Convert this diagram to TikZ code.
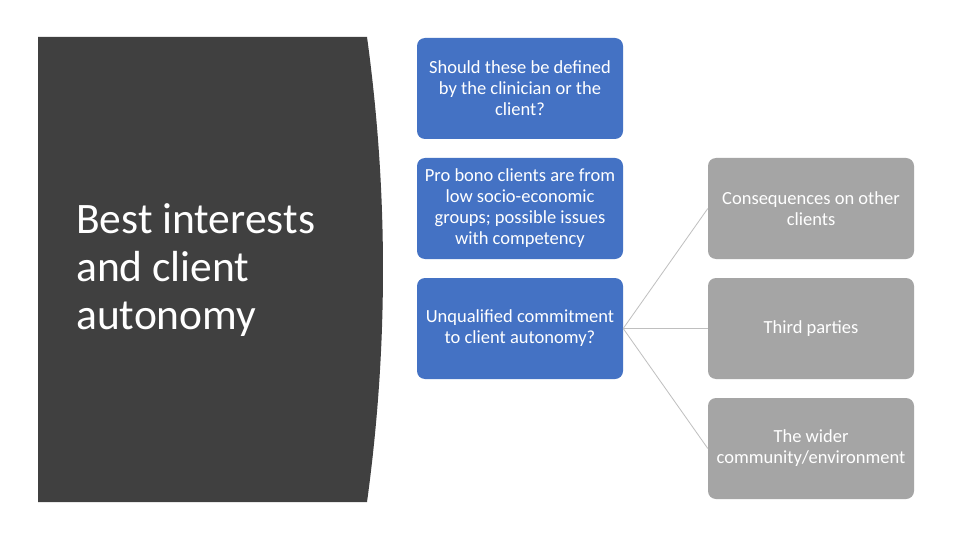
\documentclass[tikz,border=0pt]{standalone}
\usepackage{fontspec}
\setmainfont{Carlito}
\definecolor{panel}{HTML}{404040}
\definecolor{bluebox}{HTML}{4472C4}
\definecolor{graybox}{HTML}{A5A5A5}
\definecolor{linkc}{HTML}{BFBFBF}
\tikzset{
  card/.style={rounded corners=8pt, minimum width=206pt, minimum height=101pt,
    align=center, inner sep=0pt, text=white,
    font=\fontsize{18.5}{21}\selectfont},
  bluecard/.style={card, fill=bluebox},
  graycard/.style={card, fill=graybox},
  link/.style={draw=linkc, line width=0.8pt}
}
\begin{document}
\begin{tikzpicture}[x=1pt,y=-1pt]
\useasboundingbox (0,0) rectangle (960,540);
\fill[white] (0,0) rectangle (960,540);
\fill[panel] (38,37) -- (367,37) .. controls (388.3,192) and (388.3,347) .. (367,502) -- (38,502) -- cycle;
\node[anchor=west, align=left, inner sep=0pt, text=white,
  font=\fontsize{43.5}{48}\selectfont] (title) at (76,270) {Best interests\\and client\\autonomy};
\node[bluecard] (q1) at (520,88.5) {Should these be defined\\by the clinician or the\\client?};
\node[bluecard] (q2) at (520,208.5) {Pro bono clients are from\\low socio-economic\\groups; possible issues\\with competency};
\node[bluecard] (q3) at (520,328.5) {Unqualified commitment\\to client autonomy?};
\node[graycard] (g1) at (811,208.5) {Consequences on other\\clients};
\node[graycard] (g2) at (811,328.5) {Third parties};
\node[graycard] (g3) at (811,448.5) {The wider\\community/environment};
\draw[link] (q3.east) -- (g1.west);
\draw[link] (q3.east) -- (g2.west);
\draw[link] (q3.east) -- (g3.west);
\end{tikzpicture}
\end{document}
